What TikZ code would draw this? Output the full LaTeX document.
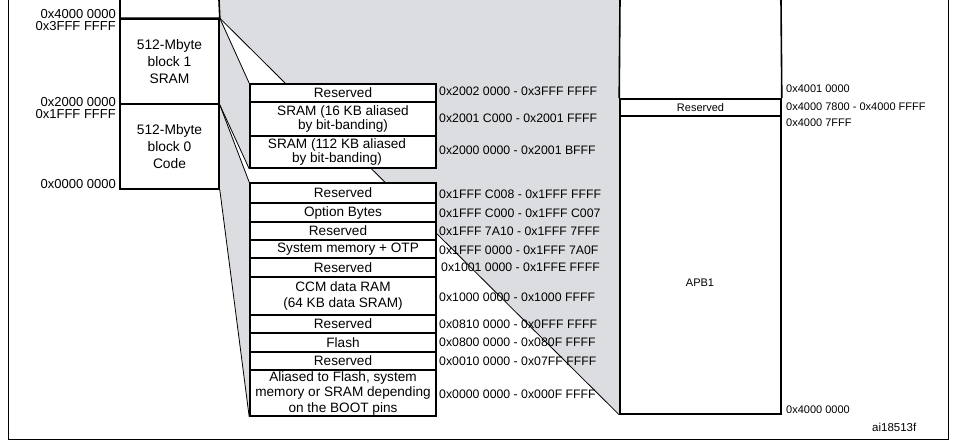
\documentclass[tikz,border=0pt]{standalone}
\usepackage{fontspec}
\setmainfont{Liberation Sans}
\definecolor{zoomgray}{RGB}{220,221,224}
\pgfdeclarelayer{bg}
\pgfsetlayers{bg,main}
\tikzset{
  cell/.style={draw, fill=white, line width=1.6pt, inner sep=0pt, minimum width=186pt, align=center, font=\fontsize{13.6}{14}\selectfont},
  blk/.style={draw, fill=white, line width=1.6pt, inner sep=0pt, minimum width=99pt, minimum height=85pt, align=center, font=\fontsize{13.8}{17}\selectfont},
  apbbox/.style={draw, fill=white, line width=1.6pt, inner sep=0pt, minimum width=161pt, font=\fontsize{11}{13}\selectfont},
  lab/.style={inner sep=0pt, font=\fontsize{13}{15}\selectfont, anchor=east},
  addr/.style={inner sep=0pt, font=\fontsize{12.3}{14}\selectfont, anchor=west},
  apblab/.style={inner sep=0pt, font=\fontsize{11}{13}\selectfont, anchor=west},
  fan/.style={line width=0.8pt},
  outerframe/.style={line width=1pt},
  heavy/.style={line width=1.6pt}
}
\begin{document}
\begin{tikzpicture}[x=1pt,y=-1pt]
\useasboundingbox (0,0) rectangle (962,444);

% left blocks
\node[blk] (b1) at (169.5,61.5) {512-Mbyte\\block 1\\SRAM};
\node[blk] (b0) at (169.5,146.5) {512-Mbyte\\block 0\\Code};
\draw[heavy] (120,0) |- (b1.north east) -- (219,0);

% SRAM detail
\node[cell, minimum height=18pt] (sres) at (343,93) {Reserved};
\node[cell, minimum height=34pt] (s16) at (343,119) {SRAM (16 KB aliased\\by bit-banding)};
\node[cell, minimum height=32pt] (s112) at (343,152) {SRAM (112 KB aliased\hspace*{12pt}\\by bit-banding)\hspace*{12pt}};

% Code detail
\node[cell, minimum height=20pt] (r1) at (343,193) {Reserved};
\node[cell, minimum height=19pt] (ob) at (343,212.5) {Option Bytes};
\node[cell, minimum height=18pt] (r2) at (343,231) {Reserved\hspace*{10pt}};
\node[cell, minimum height=18pt] (sys) at (343,249) {\hspace*{10pt}System memory + OTP};
\node[cell, minimum height=19pt] (r3) at (343,267.5) {Reserved};
\node[cell, minimum height=38pt, font=\fontsize{13.6}{16}\selectfont] (ccm) at (343,296) {CCM data RAM\\(64 KB data SRAM)};
\node[cell, minimum height=18pt] (r4) at (343,324) {Reserved};
\node[cell, minimum height=19pt] (fl) at (343,342.5) {Flash};
\node[cell, minimum height=18pt] (r5) at (343,361) {Reserved};
\node[cell, minimum height=46pt, font=\fontsize{13.6}{15.5}\selectfont] (al) at (343,393) {Aliased to Flash, system\\memory or SRAM depending\\on the BOOT pins};

% APB1 column
\node[apbbox, minimum height=17pt] (apbres) at (700.5,107.5) {Reserved};
\node[apbbox, minimum height=298pt] (apb) at (700.5,265) {};
\node[inner sep=0pt, font=\fontsize{11}{13}\selectfont] (apbl) at (700,283) {APB1};
\draw[heavy] (620,0) -- (apbres.north west);
\draw[heavy] (781,0) -- (apbres.north east);

% background shading and fan lines
\begin{pgfonlayer}{bg}
\fill[zoomgray] (219,0) -- (620,0) -- (apb.south west) -- (b1.north east) -- cycle;
\fill[zoomgray] (b1.north east) -- (sres.north west) -- (s112.south west) -- (b1.south east) -- cycle;
\fill[zoomgray] (b1.south east) -- (r1.north west) -- (al.south west) -- (b0.south east) -- cycle;
\draw[fan] (b1.north east) -- (apb.south west);
\draw[fan] (b1.north east) -- (sres.north west);
\draw[fan] (b1.south east) -- (s112.south west);
\draw[fan] (b1.south east) -- (r1.north west);
\draw[fan] (b0.south east) -- (al.south west);
\end{pgfonlayer}

% left address labels
\node[lab] (a40) at (116,14) {0x4000 0000};
\node[lab] (a3f) at (116,26.5) {0x3FFF FFFF};
\node[lab] (a20) at (116,102) {0x2000 0000};
\node[lab] (a1f) at (116,114) {0x1FFF FFFF};
\node[lab] (a00) at (116,184.5) {0x0000 0000};

% detail address labels
\node[addr] (d1) at (439,91) {0x2002 0000 - 0x3FFF FFFF};
\node[addr] (d2) at (439,118) {0x2001 C000 - 0x2001 FFFF};
\node[addr] (d3) at (439,150) {0x2000 0000 - 0x2001 BFFF};
\node[addr] (d4) at (439,194) {0x1FFF C008 - 0x1FFF FFFF};
\node[addr] (d5) at (439,213) {0x1FFF C000 - 0x1FFF C007};
\node[addr] (d6) at (439,231) {0x1FFF 7A10 - 0x1FFF 7FFF};
\node[addr] (d7) at (439,250) {0x1FFF 0000 - 0x1FFF 7A0F};
\node[addr] (d8) at (441,267) {0x1001 0000 - 0x1FFE FFFF};
\node[addr] (d9) at (439,297) {0x1000 0000 - 0x1000 FFFF};
\node[addr] (d10) at (439,324) {0x0810 0000 - 0x0FFF FFFF};
\node[addr] (d11) at (439,342) {0x0800 0000 - 0x080F FFFF};
\node[addr] (d12) at (439,361) {0x0010 0000 - 0x07FF FFFF};
\node[addr] (d13) at (439,394) {0x0000 0000 - 0x000F FFFF};

% APB1 side labels
\node[apblab] (p1) at (786,89) {0x4001 0000};
\node[apblab] (p2) at (786,107) {0x4000 7800 - 0x4000 FFFF};
\node[apblab] (p3) at (786,123) {0x4000 7FFF};
\node[apblab] (p4) at (786,410) {0x4000 0000};
\node[inner sep=0pt, font=\fontsize{11.5}{13}\selectfont, anchor=west] (fig) at (872,427) {ai18513f};

% outer frame
\draw[outerframe] (8,0) -- (8,439) -- (948,439) -- (948,0);
\end{tikzpicture}
\end{document}
